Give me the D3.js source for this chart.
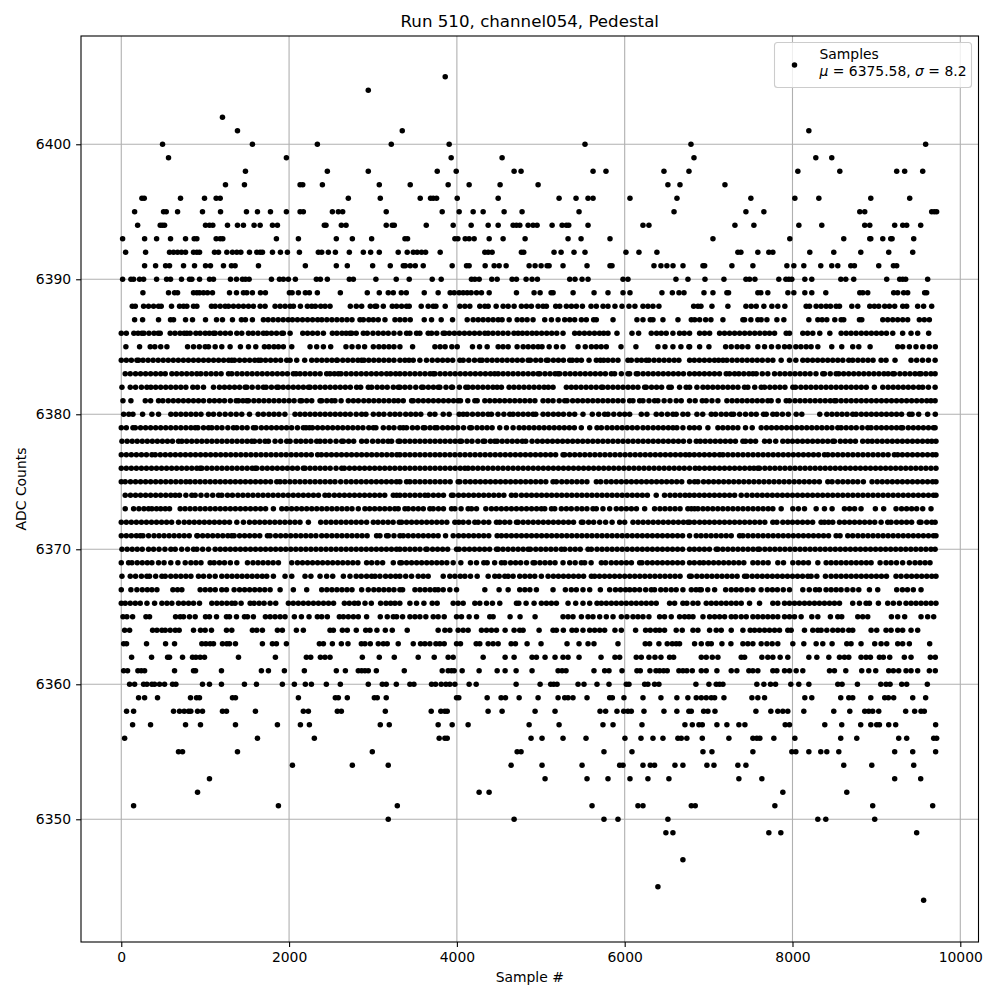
<!DOCTYPE html>
<html>
<head>
<meta charset="utf-8">
<script src="https://cdn.jsdelivr.net/npm/d3@7"></script>
<style>
    html, body { margin: 0; padding: 0; background: #fff; }
    text { font-family: "DejaVu Sans", sans-serif; fill: #000; }
</style>
</head>
<body>
<div id="container"></div>
<script>
// sample numbers at each ADC level
const adc6405 = [3861];
const adc6404 = [2944];
const adc6402 = [1206];
const adc6401 = [1385,3349,8195];
const adc6400 = [492,1563,2337,3218,3908,5527,6790,9587];
const adc6399 = [563,1968,3932,4539,6826,8278,8468];
const adc6398 = [1480,2456,2944,3766,3992,4682,4765,5623,5777,6468,6766,8064,8564,9242,9337,9552];
const adc6397 = [1242,1468,2131,2163,2397,3075,3444,3896,4146,4515,4968,6515,6659,7195];
const adc6396 = [246,274,706,992,1131,1179,2706,3087,3563,3686,3718,3758,4004,4492,5218,5420,5563,5623,6063,6623,7504,8028,8314,8933,9397];
const adc6395 = [159,504,536,671,968,1183,1492,1623,1778,1968,2131,2170,2516,2587,2639,3158,3825,4027,4194,4313,4563,4777,5456,6588,7445,7659,8802,8861,9659,9690,9718];
const adc6394 = [195,464,490,516,1004,1052,1091,1266,1385,1456,1583,1655,1802,1861,2420,2440,2623,2679,3158,3230,3254,3635,3956,4170,4373,4492,4670,4710,4750,4849,4908,4956,5135,5254,5305,5333,5563,6218,6289,7314,7540,8076,8349,8861,8921,9218,9314,9361,9528];
const adc6393 = [16,278,421,587,766,869,901,1131,1179,1210,1849,2111,2563,2754,2984,3381,3412,3976,4012,4099,4146,4206,4385,4551,4813,5325,5480,5825,7052,7968,8611,8921,8933,9076,9171,9187,9445];
const adc6392 = [52,290,575,623,671,718,766,861,901,933,1111,1159,1258,1325,1377,1425,1528,1615,1655,1683,1802,1897,1980,2123,2349,2389,2468,2552,2718,2885,2972,3075,3301,3408,3480,3527,3579,3627,3801,4333,4373,4420,4769,4797,5158,5242,5396,5527,6015,6170,6384,7349,7385,7587,7718,7766,8206,8492,8814,9147,9433];
const adc6391 = [278,409,528,575,742,873,1004,1063,1218,1313,1357,1635,2194,2563,2694,2996,3206,3361,3385,3444,3504,3599,3944,4115,4146,4337,4444,4504,4587,4861,4932,5004,5075,5099,5265,5551,5825,5849,6349,6432,6503,6576,6695,6933,6953,7278,7528,7933,8016,8135,8337,8468,8540,8695,8738,9028,9203,9242];
const adc6390 = [16,115,147,218,266,421,540,587,718,813,841,933,1052,1099,1302,1373,1444,1480,1524,1790,1885,1932,1992,2075,2325,2373,2456,2718,2766,3035,3277,3432,3706,3813,4174,4214,4266,4416,4480,4658,4710,4825,4896,4960,5345,5408,5492,5563,5980,6039,6611,6754,6957,7183,7445,7488,7552,7837,7921,7957,7992,8147,8230,8576,8635,8730,9123,9278,9314,9349,9611];
const adc6389 = [258,563,635,671,861,901,933,980,1028,1087,1290,1373,1456,1496,1563,1659,1718,2004,2036,2111,2194,2242,2337,2611,2932,3075,3182,3242,3337,3397,3611,3777,3920,3968,4027,4075,4123,4170,4234,4293,4385,4710,4920,4992,5123,5147,5385,5635,5801,5980,6063,6444,6568,6647,6707,6945,7052,7218,7238,7587,7623,7706,7945,8016,8147,8230,8397,8802,8838,8897,9206,9254,9325,9373,9575,9599];
const adc6388 = [131,167,266,325,385,444,476,599,694,742,782,861,901,1075,1119,1179,1238,1278,1337,1397,1456,1516,1575,1655,1714,1833,1893,1952,2012,2052,2135,2218,2270,2313,2377,2429,2488,2730,2801,2865,2968,3024,3043,3123,3230,3281,3341,3400,3432,3575,3658,3718,3750,3861,4035,4095,4154,4273,4333,4373,4468,4551,4611,4682,4769,4829,4888,4968,5027,5067,5178,5226,5305,5365,5424,5496,5599,5662,5742,5801,5884,5968,6051,6122,6218,6277,6337,6408,6822,6873,6909,7040,7230,7445,7508,7568,7659,7754,7825,7909,8163,8203,8282,8341,8401,8453,8520,8560,8707,8778,8921,8976,9028,9099,9155,9218,9314,9361,9492,9563,9659];
const adc6387 = [159,254,444,587,623,766,849,1004,1135,1206,1325,1432,1480,1563,1694,1750,1810,1870,1930,1990,2040,2100,2160,2220,2280,2340,2390,2450,2510,2570,2630,2690,2750,2845,2885,2950,3004,3063,3143,3262,3321,3381,3444,3611,3698,3813,3948,4123,4194,4254,4313,4373,4432,4492,4539,4623,4718,4777,4837,4908,5047,5127,5206,5285,5345,5404,5484,5543,5630,5662,5861,6146,6218,6305,6337,6456,6635,6794,6834,6893,6965,7028,7171,7409,7429,7504,7587,7627,7695,7814,7897,8195,8302,8353,8409,8504,8580,8611,8798,8826,9076,9135,9195,9254,9314,9373,9512,9571,9631];
const adc6386 = [0,60,150,200,246,270,330,390,440,464,583,640,700,750,782,821,889,940,1000,1050,1099,1119,1180,1240,1300,1377,1436,1516,1570,1630,1694,1734,1790,1850,1913,1932,2012,2163,2220,2280,2340,2409,2516,2570,2630,2680,2726,2746,2800,2885,2932,3000,3063,3123,3182,3250,3321,3400,3440,3519,3559,3658,3698,3760,3837,3857,3910,3970,4030,4090,4150,4210,4270,4333,4373,4430,4490,4550,4610,4680,4730,4781,4837,4896,4950,5010,5070,5130,5190,5265,5404,5460,5520,5580,5640,5700,5750,5801,5908,6087,6166,6317,6380,6436,6495,6575,6654,6710,6773,6893,6952,7012,7131,7190,7250,7310,7370,7430,7490,7550,7610,7670,7726,7786,7925,7964,8123,8180,8242,8325,8445,8580,8640,8698,8758,8820,8880,8940,9000,9060,9120,9195,9313,9413,9492,9623];
const adc6385 = [55,218,345,400,470,544,790,861,930,1000,1040,1119,1198,1297,1420,1516,1603,1706,1760,1820,1873,1932,2032,2250,2329,2409,2496,2678,2750,2825,2900,3004,3070,3130,3190,3250,3321,3472,3738,3800,3860,3940,4004,4186,4270,4361,4492,4550,4611,4718,4790,4850,4910,4968,5015,5100,5186,5265,5444,5530,5603,5662,5720,5781,5956,6134,6396,6480,6575,6670,6765,6774,6893,7004,7203,7270,7340,7400,7468,7587,7667,7750,7830,7905,7964,8040,8100,8163,8222,8302,8468,8587,8718,8790,8925,9254,9313,9393,9472,9552,9631,9702];
const adc6384 = [0,60,120,186,206,260,320,380,440,500,560,620,680,740,800,860,920,980,1040,1100,1160,1220,1280,1317,1349,1410,1470,1530,1590,1635,1663,1720,1780,1840,1900,1972,2012,2091,2186,2270,2330,2390,2450,2510,2567,2575,2640,2700,2760,2820,2865,2893,2950,3010,3070,3130,3190,3250,3321,3380,3430,3480,3559,3638,3706,3770,3830,3890,3950,4035,4075,4142,4210,4273,4301,4360,4420,4480,4540,4600,4660,4720,4780,4849,4876,4940,5000,5067,5087,5150,5210,5270,5345,5376,5430,5484,5575,5662,5710,5750,5801,5860,5920,6039,6079,6146,6200,6257,6289,6350,6410,6470,6530,6590,6646,6774,6830,6890,6950,7010,7070,7120,7171,7218,7280,7340,7400,7460,7520,7580,7640,7706,7766,7865,7964,8040,8123,8180,8240,8300,8360,8420,8480,8540,8600,8671,8718,8780,8840,8900,8960,9056,9115,9222,9413,9480,9550,9620,9700];
const adc6383 = [47,107,170,230,290,350,410,470,524,603,660,720,780,840,900,948,1010,1070,1130,1190,1278,1317,1380,1440,1500,1560,1620,1680,1740,1800,1860,1920,1980,2051,2083,2131,2190,2250,2310,2370,2448,2488,2540,2587,2619,2680,2740,2800,2860,2920,2980,3040,3100,3162,3210,3270,3321,3380,3440,3500,3560,3620,3680,3718,3738,3800,3860,3920,3980,4040,4100,4160,4220,4280,4340,4400,4450,4492,4551,4610,4670,4730,4790,4850,4910,4968,4988,5050,5110,5170,5206,5226,5290,5350,5410,5470,5530,5590,5650,5710,5770,5841,5880,5960,6039,6059,6138,6158,6220,6280,6340,6400,6460,6520,6580,6640,6700,6773,6833,6890,6950,7010,7070,7130,7210,7250,7310,7361,7420,7480,7528,7568,7640,7706,7786,7850,7910,7970,8030,8090,8150,8210,8280,8361,8381,8450,8520,8552,8610,8670,8730,8790,8850,8910,8970,9030,9090,9140,9195,9214,9280,9340,9400,9460,9512,9532,9590,9650,9700];
const adc6382 = [8,107,170,240,305,353,410,470,530,590,650,710,770,853,909,980,1099,1170,1230,1290,1350,1410,1476,1496,1560,1630,1694,1726,1790,1853,1873,1930,1990,2050,2110,2170,2230,2250,2310,2370,2430,2490,2550,2610,2670,2730,2805,2853,2944,2984,3050,3110,3170,3242,3301,3321,3380,3440,3510,3579,3599,3660,3720,3777,3797,3870,3936,3948,4030,4107,4134,4190,4250,4310,4370,4430,4480,4531,4622,4680,4740,4800,4860,4920,4980,5040,5090,5146,5305,5364,5420,5480,5540,5600,5660,5722,5741,5800,5860,5920,5980,6040,6099,6158,6238,6257,6320,6380,6440,6527,6555,6654,6733,6774,6861,6933,6990,7050,7110,7170,7230,7290,7350,7428,7468,7550,7627,7667,7730,7790,7850,7910,8004,8036,8100,8160,8220,8280,8340,8400,8460,8520,8580,8640,8700,8760,8820,8880,8976,9076,9140,9200,9260,9320,9380,9440,9504,9552,9620,9700];
const adc6381 = [20,115,286,350,444,496,560,620,680,740,800,860,920,980,1051,1110,1170,1230,1300,1369,1397,1450,1496,1516,1580,1640,1700,1760,1820,1880,1940,2000,2060,2131,2151,2210,2270,2369,2389,2450,2508,2547,2620,2706,2766,2825,2890,2950,3010,3070,3130,3190,3250,3301,3361,3460,3480,3540,3600,3660,3720,3780,3840,3900,3960,4015,4043,4130,4214,4242,4333,4392,4452,4510,4570,4630,4690,4750,4810,4870,4930,5027,5087,5146,5220,5285,5313,5380,5440,5500,5560,5620,5680,5740,5800,5860,5920,5980,6059,6099,6178,6218,6290,6356,6396,6470,6540,6614,6674,6773,6840,6925,6972,7040,7111,7218,7280,7340,7400,7460,7520,7580,7640,7706,7746,7830,7925,7964,8030,8090,8150,8210,8270,8330,8390,8450,8500,8520,8580,8640,8700,8760,8820,8880,8940,9000,9060,9120,9180,9240,9300,9360,9420,9480,9540,9600,9650,9700];
const adc6380 = [28,90,139,254,365,444,591,650,710,770,830,890,950,1040,1099,1170,1238,1305,1370,1436,1528,1631,1694,1760,1820,1880,1950,2071,2131,2190,2250,2310,2370,2430,2490,2550,2610,2670,2730,2800,2865,2916,3004,3070,3130,3202,3262,3321,3390,3450,3510,3570,3678,3738,3837,3908,4027,4075,4122,4186,4250,4310,4372,4412,4490,4560,4630,4670,4730,4790,4850,4908,4940,5027,5087,5150,5210,5270,5340,5404,5503,5614,5690,5761,5801,5870,5940,6000,6059,6198,6265,6376,6440,6510,6575,6614,6694,6753,6861,6930,7032,7083,7150,7210,7270,7298,7370,7440,7508,7568,7655,7687,7766,7814,7880,7950,8044,8111,8325,8409,8470,8530,8590,8650,8718,8758,8820,8880,8940,9000,9060,9120,9180,9240,9300,9393,9425,9504,9611,9702];
const adc6379 = [0,60,139,167,230,290,350,410,470,530,590,650,710,770,830,881,913,980,1040,1079,1140,1200,1270,1337,1377,1440,1500,1575,1603,1670,1730,1790,1850,1910,1970,2030,2100,2170,2202,2242,2278,2340,2400,2460,2520,2580,2640,2700,2760,2820,2880,2950,3004,3035,3123,3190,3250,3321,3361,3400,3470,3530,3599,3619,3680,3738,3765,3830,3890,3950,4010,4080,4154,4174,4240,4300,4360,4420,4511,4591,4670,4742,4800,4860,4920,4980,5040,5100,5160,5220,5280,5340,5400,5483,5583,5670,5722,5790,5850,5910,5970,6030,6090,6150,6218,6277,6340,6400,6460,6520,6575,6622,6694,6773,6830,6890,6992,7111,7170,7230,7290,7349,7440,7520,7627,7690,7750,7810,7870,7930,7990,8050,8110,8170,8230,8290,8350,8410,8470,8540,8580,8640,8700,8760,8830,8897,8937,9000,9060,9120,9180,9240,9294,9313,9380,9440,9500,9560,9620,9680,9700];
const adc6378 = [8,70,130,190,250,310,370,430,490,550,610,682,722,780,840,900,960,1020,1080,1140,1200,1260,1320,1380,1440,1500,1555,1587,1650,1714,1754,1833,1900,1972,2012,2083,2140,2200,2260,2329,2369,2428,2490,2560,2627,2647,2710,2770,2865,2924,2996,3060,3120,3180,3222,3301,3321,3380,3440,3500,3560,3620,3680,3740,3800,3860,3920,3980,4035,4055,4120,4180,4250,4313,4333,4400,4452,4480,4540,4600,4660,4720,4780,4821,4896,4960,5020,5080,5140,5200,5260,5320,5380,5440,5500,5560,5620,5680,5740,5800,5860,5920,5980,6040,6100,6160,6220,6280,6340,6400,6460,6520,6580,6640,6700,6773,6853,6901,6960,7020,7080,7140,7200,7260,7320,7409,7441,7500,7560,7667,7726,7800,7885,7944,8000,8060,8120,8180,8240,8300,8360,8420,8480,8500,8570,8630,8690,8750,8837,8897,8950,9010,9070,9130,9190,9250,9310,9370,9430,9490,9550,9610,9660,9710];
const adc6377 = [0,60,120,180,240,300,365,405,465,525,585,645,705,765,825,885,945,1005,1065,1125,1185,1245,1305,1365,1425,1485,1545,1605,1665,1725,1785,1845,1905,1965,2025,2085,2145,2205,2265,2340,2385,2445,2505,2565,2625,2685,2745,2805,2865,2925,2985,3045,3105,3165,3225,3285,3321,3381,3440,3500,3560,3620,3680,3740,3797,3857,3917,3977,4037,4097,4157,4217,4277,4337,4397,4457,4517,4577,4637,4697,4757,4817,4877,4937,4997,5057,5117,5177,5265,5285,5345,5405,5465,5525,5585,5645,5705,5765,5825,5885,5945,6005,6065,6125,6185,6245,6305,6365,6425,6485,6545,6605,6665,6725,6773,6830,6890,6950,7010,7070,7131,7171,7230,7290,7350,7410,7470,7530,7590,7650,7710,7770,7830,7890,7950,8010,8070,8130,8190,8250,8310,8381,8421,8480,8540,8600,8660,8720,8780,8840,8900,8960,9020,9080,9140,9214,9254,9310,9370,9430,9490,9550,9610,9670,9710];
const adc6376 = [0,60,120,180,240,300,360,420,480,540,600,660,720,780,840,900,940,960,1020,1080,1140,1200,1260,1320,1380,1440,1500,1560,1595,1615,1680,1740,1800,1860,1920,1980,2040,2100,2170,2190,2250,2310,2370,2430,2490,2560,2627,2658,2720,2780,2840,2900,2960,3020,3080,3140,3200,3260,3321,3380,3440,3500,3560,3620,3680,3740,3800,3860,3920,3980,4040,4095,4134,4190,4250,4310,4370,4430,4490,4550,4610,4670,4730,4790,4850,4910,4970,5030,5090,5150,5210,5270,5330,5390,5450,5510,5570,5630,5690,5750,5810,5870,5930,5990,6050,6110,6170,6230,6290,6350,6410,6470,6530,6590,6650,6710,6773,6840,6890,6952,7012,7070,7130,7190,7250,7310,7370,7430,7490,7540,7587,7607,7670,7730,7790,7850,7910,7970,8030,8090,8150,8210,8270,8330,8390,8450,8510,8570,8630,8690,8750,8810,8870,8930,8990,9050,9110,9170,9230,9290,9350,9410,9470,9530,9590,9650,9710];
const adc6375 = [0,47,110,170,230,290,350,410,470,530,590,650,710,770,821,881,940,1000,1060,1120,1180,1240,1300,1360,1420,1480,1540,1600,1660,1720,1780,1853,1893,1950,2010,2070,2130,2190,2250,2310,2370,2430,2490,2547,2615,2680,2740,2800,2860,2920,2980,3040,3100,3160,3220,3280,3321,3400,3440,3500,3560,3620,3680,3740,3800,3860,3920,4015,4035,4100,4160,4220,4280,4340,4400,4460,4520,4580,4640,4700,4760,4820,4880,4940,5000,5060,5146,5186,5250,5310,5370,5430,5490,5550,5662,5714,5780,5840,5900,5960,6020,6080,6140,6200,6260,6320,6380,6440,6500,6560,6620,6680,6773,6833,6873,6940,7000,7060,7120,7180,7240,7300,7360,7420,7480,7540,7600,7660,7720,7780,7840,7900,7960,8020,8080,8140,8200,8260,8320,8421,8472,8540,8600,8660,8720,8778,8845,8948,9010,9070,9130,9190,9250,9310,9370,9430,9490,9550,9610,9670,9710];
const adc6374 = [47,110,170,230,290,350,410,470,530,590,643,694,770,841,881,950,1020,1090,1159,1198,1266,1325,1390,1450,1510,1570,1630,1690,1750,1810,1870,1930,1990,2050,2110,2170,2230,2290,2350,2428,2476,2540,2600,2660,2720,2780,2840,2900,2960,3020,3080,3140,3242,3282,3321,3380,3440,3500,3560,3619,3658,3720,3780,3840,3936,3956,4020,4080,4140,4200,4260,4320,4380,4440,4500,4560,4650,4702,4770,4830,4890,4950,5010,5070,5130,5190,5250,5310,5370,5430,5490,5550,5610,5670,5730,5790,5850,5910,5970,6030,6090,6150,6210,6270,6376,6475,6540,6600,6660,6720,6773,6830,6890,6950,7010,7070,7130,7190,7250,7310,7389,7456,7520,7580,7640,7700,7760,7820,7880,7940,8000,8060,8120,8180,8240,8300,8360,8420,8480,8540,8600,8660,8720,8780,8840,8900,8960,9020,9080,9140,9200,9260,9320,9380,9440,9500,9560,9620,9680,9710];
const adc6373 = [47,147,210,270,325,365,420,470,524,575,702,760,820,880,940,1000,1060,1120,1180,1240,1300,1360,1420,1480,1540,1600,1660,1720,1813,1913,1970,2030,2090,2150,2210,2270,2330,2390,2450,2510,2570,2630,2690,2750,2825,2904,2960,3020,3080,3140,3200,3260,3301,3381,3420,3480,3540,3600,3678,3718,3780,3840,3936,3976,4050,4134,4174,4234,4345,4412,4470,4530,4590,4650,4710,4770,4830,4890,4950,5007,5047,5127,5166,5245,5305,5364,5430,5490,5550,5622,5662,5741,5821,5900,5960,6020,6080,6140,6238,6356,6420,6480,6540,6600,6660,6753,6794,6833,6873,6933,6990,7050,7110,7170,7230,7290,7350,7410,7470,7530,7590,7650,7710,7766,7865,8004,8070,8143,8282,8381,8472,8619,8680,8740,8817,8988,9087,9234,9300,9360,9420,9480,9552,9651];
const adc6372 = [0,60,120,180,240,300,360,420,480,540,600,682,750,810,870,930,990,1050,1110,1170,1230,1290,1377,1456,1528,1590,1650,1710,1770,1830,1890,1950,2010,2070,2130,2230,2377,2440,2500,2560,2620,2680,2740,2800,2860,2924,3004,3060,3120,3180,3240,3313,3341,3400,3460,3520,3580,3640,3700,3760,3820,3880,3976,4023,4075,4140,4214,4254,4320,4380,4472,4511,4570,4630,4710,4730,4790,4850,4910,4970,5030,5090,5150,5210,5270,5330,5390,5484,5503,5570,5630,5702,5773,5850,5940,6000,6099,6160,6220,6280,6340,6400,6460,6520,6580,6640,6700,6753,6774,6830,6893,6952,7010,7070,7130,7190,7250,7310,7370,7430,7490,7550,7610,7670,7766,7814,7885,7944,8000,8060,8120,8180,8240,8341,8381,8430,8480,8560,8620,8680,8740,8800,8860,8920,8980,9056,9135,9175,9240,9300,9360,9420,9512,9532,9600,9660,9700];
const adc6371 = [0,60,120,180,226,258,325,390,450,510,570,630,690,750,810,901,909,970,1030,1090,1150,1210,1270,1317,1345,1410,1470,1530,1590,1650,1742,1774,1840,1900,1960,2020,2080,2140,2200,2260,2320,2389,2448,2510,2570,2630,2690,2750,2810,2870,2930,3043,3083,3162,3182,3250,3321,3361,3420,3480,3540,3600,3660,3720,3777,3865,3956,4020,4080,4140,4200,4260,4320,4380,4480,4531,4590,4650,4710,4770,4830,4890,4950,5010,5070,5130,5190,5250,5310,5370,5430,5490,5550,5610,5670,5730,5790,5850,5910,5970,6030,6090,6150,6210,6270,6330,6390,6450,6510,6570,6630,6690,6773,6853,6910,6970,7030,7090,7150,7210,7270,7369,7409,7470,7530,7590,7650,7710,7770,7830,7890,7950,8010,8070,8130,8190,8250,8310,8370,8430,8520,8567,8659,8718,8780,8840,8900,8960,9020,9080,9140,9200,9260,9320,9380,9440,9500,9560,9620,9680,9710];
const adc6370 = [8,70,130,190,250,325,385,450,520,591,643,720,790,861,901,970,1040,1119,1180,1240,1300,1360,1420,1480,1540,1600,1660,1720,1780,1840,1900,1960,2020,2080,2140,2200,2260,2320,2380,2440,2500,2560,2620,2680,2740,2800,2860,2920,2980,3040,3100,3160,3220,3280,3321,3380,3440,3500,3560,3630,3646,3710,3770,3830,3890,3996,4027,4090,4150,4210,4270,4330,4390,4472,4492,4550,4610,4670,4730,4790,4849,4876,4940,5000,5060,5120,5180,5245,5285,5350,5410,5470,5563,5603,5670,5730,5790,5850,5910,5970,6030,6090,6150,6210,6270,6330,6390,6450,6510,6570,6630,6690,6773,6830,6890,6950,7010,7091,7111,7170,7230,7290,7350,7410,7470,7530,7587,7607,7670,7730,7790,7850,7910,7970,8030,8090,8150,8210,8270,8330,8390,8450,8510,8570,8630,8690,8750,8810,8870,8930,8990,9050,9110,9170,9230,9290,9350,9410,9470,9530,9590,9650,9700];
const adc6369 = [0,87,127,190,250,310,365,444,510,590,675,762,830,890,950,1059,1107,1170,1230,1300,1377,1504,1570,1630,1690,1750,1810,1873,2032,2100,2160,2220,2280,2340,2400,2460,2520,2580,2640,2700,2760,2820,2924,2984,3050,3115,3242,3321,3341,3400,3460,3520,3580,3640,3700,3760,3820,3880,3956,4047,4162,4234,4321,4361,4450,4531,4571,4640,4700,4760,4830,4908,4928,4990,5050,5110,5170,5265,5345,5410,5483,5523,5600,5722,5773,5840,5900,5960,6020,6080,6178,6206,6270,6330,6390,6450,6510,6570,6630,6690,6773,6830,6893,6941,7000,7060,7120,7180,7240,7300,7360,7420,7528,7587,7650,7710,7825,7893,8004,8070,8130,8190,8302,8401,8460,8520,8580,8640,8700,8760,8820,8880,8937,9044,9115,9175,9240,9313,9393,9460,9520,9580,9639];
const adc6368 = [8,107,170,240,305,337,410,484,524,590,650,710,770,830,920,980,1050,1119,1198,1260,1320,1380,1440,1500,1560,1620,1680,1734,1813,1952,2032,2190,2260,2369,2448,2520,2647,2726,2800,2860,2924,2984,3024,3083,3150,3210,3270,3321,3390,3460,3539,3599,3658,3837,3916,3976,4040,4095,4162,4242,4373,4452,4504,4571,4611,4670,4749,4810,4870,4928,5007,5087,5150,5210,5270,5330,5390,5450,5510,5603,5642,5700,5760,5820,5880,5940,6000,6060,6120,6180,6240,6300,6360,6420,6480,6540,6600,6660,6773,6794,6860,6920,6980,7040,7100,7160,7220,7280,7340,7429,7456,7520,7580,7640,7700,7760,7820,7880,7940,8000,8060,8120,8183,8222,8290,8393,8460,8520,8580,8640,8700,8760,8820,8880,8940,9000,9060,9120,9234,9294,9360,9420,9480,9540,9600,9660,9710];
const adc6367 = [0,115,186,250,310,365,425,615,670,722,940,1000,1060,1120,1198,1254,1345,1410,1470,1530,1590,1650,1710,1774,1893,2051,2210,2389,2450,2510,2570,2630,2690,2750,2865,2944,3010,3070,3130,3190,3250,3321,3353,3500,3560,3620,3680,3738,3777,3837,3916,3996,4333,4503,4611,4749,4810,4870,4948,5146,5293,5364,5424,5503,5583,5710,5821,5890,5950,6010,6060,6118,6178,6250,6317,6356,6430,6490,6555,6614,6694,6794,6850,6893,6913,6990,7072,7203,7270,7330,7390,7460,7528,7627,7700,7760,7820,7890,7964,8123,8200,8274,8321,8400,8460,8520,8579,8650,8720,8790,8917,9016,9242,9310,9370,9440,9532];
const adc6366 = [0,47,107,167,226,306,397,484,544,603,682,742,802,861,932,1079,1139,1198,1258,1317,1357,1428,1536,1583,1643,1702,1774,1841,1992,2050,2110,2170,2230,2290,2350,2410,2470,2530,2659,2718,2778,2825,2905,2980,3091,3155,3210,3262,3320,3440,3519,3607,3706,3765,3956,4015,4075,4214,4273,4353,4424,4511,4710,4738,4825,4920,5007,5067,5126,5186,5325,5416,5503,5583,5670,5722,5781,5841,5900,5960,6019,6079,6138,6198,6257,6317,6376,6535,6595,6694,6741,6814,6873,6972,7032,7091,7151,7210,7270,7329,7389,7488,7607,7766,7825,7905,7964,8024,8083,8143,8202,8262,8321,8381,8441,8500,8560,8718,8798,8877,8917,9024,9135,9202,9274,9353,9413,9472,9532,9591,9651,9710];
const adc6365 = [20,67,135,294,337,647,702,742,813,881,1004,1051,1135,1254,1290,1373,1468,1504,1575,1718,1774,1833,1893,1952,2063,2147,2238,2337,2389,2456,2599,2647,2706,2766,2825,2924,3087,3170,3242,3282,3353,3440,3500,3559,3630,3718,3777,3849,3996,4055,4146,4234,4392,4432,4634,4753,4932,5265,5325,5384,5484,5563,5622,5702,5781,5861,5960,6027,6099,6158,6218,6289,6416,6475,6555,6654,6714,6765,6814,6933,7012,7072,7131,7191,7270,7322,7389,7449,7528,7587,7647,7706,7766,7825,7905,7964,8024,8103,8230,8302,8452,8540,8587,8778,8837,8897,9179,9254,9337,9532,9611,9683];
const adc6364 = [40,99,373,425,484,524,583,643,690,861,944,1000,1075,1254,1317,1563,1615,1682,1861,1920,2087,2170,2488,2528,2635,2694,2801,2913,2964,3047,3147,3230,3408,3777,3857,3916,4015,4075,4134,4293,4353,4412,4472,4575,4682,4749,4789,4980,5146,5186,5269,5372,5424,5503,5583,5642,5702,5761,5884,5960,6130,6249,6305,6368,6416,6475,6614,6686,6814,6873,7012,7091,7151,7270,7409,7496,7548,7607,7667,7726,7786,7845,7944,7984,8143,8242,8302,8341,8409,8480,8540,8599,8671,8718,8937,9004,9115,9175,9254,9313,9413,9492];
const adc6363 = [28,63,301,528,635,960,1008,1059,1099,1206,1258,1290,1361,1682,1801,1849,1968,2361,2409,2516,2623,2702,2861,2904,2968,3063,3123,3170,3301,3480,3567,3619,3678,3750,3797,3849,3996,4043,4230,4273,4373,4432,4492,4646,4698,4837,5003,5313,5456,5563,5634,5920,6245,6297,6408,6507,6567,6614,6654,6833,6913,6992,7032,7159,7266,7409,7468,7528,7627,7695,7758,7825,8004,8135,8282,8361,8472,8647,8698,8817,8980,9056,9123,9254,9313,9393,9635];
const adc6362 = [123,361,552,575,730,849,889,940,992,1397,1837,2206,2258,2373,2428,2488,2873,3075,3254,3539,3730,3896,3956,4313,4575,4682,4896,4948,5051,5170,5265,5325,5456,5718,5884,5940,6138,6198,6289,6361,6432,6535,6583,6913,6972,7044,7111,7389,7429,7635,7706,7766,7853,7944,8195,8290,8433,8560,8619,8671,8817,8877,8929,9036,9083,9159,9333,9413,9643,9702];
const adc6361 = [28,75,198,238,278,635,861,885,1194,1670,1754,1944,2182,2563,2671,2825,2865,2904,2944,3040,3373,3825,3896,3936,3968,4063,4265,4480,4575,4706,4896,5206,5254,5301,5634,5761,5813,5968,6146,6186,6301,6373,6416,6464,6507,6646,6694,6741,6806,6913,6972,7099,7270,7337,7480,7528,7587,7766,7814,7905,7964,8044,8123,8441,8500,8635,8825,8909,8992,9147,9202,9266,9353,9413,9492,9631,9702];
const adc6360 = [99,159,266,306,365,397,456,516,611,651,968,1051,1194,1468,1611,1920,2063,2194,2266,2444,2611,2944,3111,3158,3278,3440,3488,3698,3746,3813,3869,3916,3976,4146,4230,4706,4992,5118,5154,5194,5444,5515,5670,5813,6019,6051,6238,6277,6356,6408,6849,7004,7091,7131,7171,7575,7659,7738,7798,7980,8075,8195,8540,8591,8774,9052,9115,9163,9302,9361,9607];
const adc6359 = [206,278,432,825,897,932,1325,1361,2111,2551,2587,2694,3016,3051,3158,3996,4023,4361,4527,4579,4742,4968,5206,5285,5325,5384,5551,5821,5853,5991,6218,6432,6622,6753,6853,6913,6972,7032,7072,7183,7516,7587,7667,8147,8230,8575,8671,8718,8933,9099,9143,9206,9433,9587];
const adc6358 = [63,147,623,694,750,802,829,909,968,1206,1254,1599,2170,2230,2575,2623,3147,3694,3809,3857,3885,4372,4539,4932,5170,5706,5773,5908,5988,6039,6079,6230,6468,6622,6765,6794,6941,6992,7076,7564,7742,7825,7885,7944,8135,8492,8683,8861,8909,8956,9028,9349,9456,9532,9571];
const adc6357 = [135,349,766,944,1361,1861,2135,2242,3087,3194,3777,3944,4134,4861,5218,5741,5861,6206,6718,6806,6885,6925,7099,7218,7361,7433,7913,7964,8385,8587,8813,8933,9004,9036,9147,9230,9706];
const adc6356 = [40,1623,2301,3789,3857,3885,4884,5015,5265,5539,6003,6194,6337,6456,6634,6674,6741,6925,7242,7528,7575,7611,7778,8028,8575,8766,9266,9361,9683,9718];
const adc6355 = [682,730,1385,2992,4718,4765,5753,6087,6933,7040,7528,7992,8040,8195,8337,8409,8552,9218,9433,9706];
const adc6354 = [2040,2754,3182,4646,5015,5492,5940,5980,6218,6305,6356,6599,6694,6980,7064,7349,7445,8611,8945,9445];
const adc6353 = [1051,5051,5551,5801,6063,6277,6527,7361,7635,9218,9528];
const adc6352 = [909,4265,4384,7885,8647];
const adc6351 = [147,1873,3290,5611,6158,6218,6794,6841,7790,8956,9671];
const adc6350 = [3182,4682,5753,5920,6515,8302,8397,8980];
const adc6349 = [6491,6575,7718,7861,9480];
const adc6347 = [6694];
const adc6345 = [6396];
const adc6344 = [9563];

const levelRows = [
    [6405,adc6405],[6404,adc6404],[6402,adc6402],[6401,adc6401],[6400,adc6400],[6399,adc6399],[6398,adc6398],[6397,adc6397],
    [6396,adc6396],[6395,adc6395],[6394,adc6394],[6393,adc6393],[6392,adc6392],[6391,adc6391],[6390,adc6390],[6389,adc6389],
    [6388,adc6388],[6387,adc6387],[6386,adc6386],[6385,adc6385],[6384,adc6384],[6383,adc6383],[6382,adc6382],[6381,adc6381],
    [6380,adc6380],[6379,adc6379],[6378,adc6378],[6377,adc6377],[6376,adc6376],[6375,adc6375],[6374,adc6374],[6373,adc6373],
    [6372,adc6372],[6371,adc6371],[6370,adc6370],[6369,adc6369],[6368,adc6368],[6367,adc6367],[6366,adc6366],[6365,adc6365],
    [6364,adc6364],[6363,adc6363],[6362,adc6362],[6361,adc6361],[6360,adc6360],[6359,adc6359],[6358,adc6358],[6357,adc6357],
    [6356,adc6356],[6355,adc6355],[6354,adc6354],[6353,adc6353],[6352,adc6352],[6351,adc6351],[6350,adc6350],[6349,adc6349],
    [6347,adc6347],[6345,adc6345],[6344,adc6344]
];
const x_ticks = [0, 2000, 4000, 6000, 8000, 10000];
const y_ticks = [6350, 6360, 6370, 6380, 6390, 6400];

const fig = {width: 1000, height: 1000};
const plot = {left: 81, right: 978.5, top: 36, bottom: 942};

const svg = d3.select("#container").append("svg")
    .attr("width", fig.width)
    .attr("height", fig.height)
    .style("display", "block");

const xScale = d3.scaleLinear().domain([-480, 10217]).range([plot.left, plot.right]);
const yScale = d3.scaleLinear().domain([6340.91, 6408.02]).range([plot.bottom, plot.top]);

// grid under the points
const grid = svg.append("g").attr("stroke", "#b0b0b0").attr("stroke-width", 1.1);
grid.selectAll(".vgrid").data(x_ticks).enter().append("line")
    .attr("x1", d => xScale(d)).attr("x2", d => xScale(d))
    .attr("y1", plot.top).attr("y2", plot.bottom);
grid.selectAll(".hgrid").data(y_ticks).enter().append("line")
    .attr("x1", plot.left).attr("x2", plot.right)
    .attr("y1", d => yScale(d)).attr("y2", d => yScale(d));

const points = levelRows.flatMap(([level, samples]) => samples.map(s => ({sample: s, level: level})));
svg.append("g").selectAll("circle")
    .data(points)
    .enter().append("circle")
    .attr("cx", d => xScale(d.sample))
    .attr("cy", d => yScale(d.level))
    .attr("r", 2.75)
    .attr("fill", "#000");

const xAxis = svg.append("g")
    .attr("transform", `translate(0,${plot.bottom})`)
    .call(d3.axisBottom(xScale).tickValues(x_ticks).tickFormat(d3.format("d")).tickSize(4.9).tickPadding(4.9).tickSizeOuter(0));
const yAxis = svg.append("g")
    .attr("transform", `translate(${plot.left},0)`)
    .call(d3.axisLeft(yScale).tickValues(y_ticks).tickFormat(d3.format("d")).tickSize(4.9).tickPadding(4.9).tickSizeOuter(0));
[xAxis, yAxis].forEach(a => {
    a.select(".domain").remove();
    a.selectAll("line").attr("stroke", "#000").attr("stroke-width", 1.1);
    a.selectAll("text").style("font-family", '"DejaVu Sans", sans-serif').style("font-size", "13.9px");
});

// frame
svg.append("rect")
    .attr("x", plot.left).attr("y", plot.top)
    .attr("width", plot.right - plot.left).attr("height", plot.bottom - plot.top)
    .attr("fill", "none").attr("stroke", "#000").attr("stroke-width", 1.1);

svg.append("text")
    .attr("x", (plot.left + plot.right) / 2).attr("y", 27)
    .attr("text-anchor", "middle").style("font-size", "16.67px")
    .text("Run 510, channel054, Pedestal");
svg.append("text")
    .attr("x", (plot.left + plot.right) / 2).attr("y", 982)
    .attr("text-anchor", "middle").style("font-size", "13.9px")
    .text("Sample #");
svg.append("text")
    .attr("transform", `translate(25.5,${(plot.top + plot.bottom) / 2}) rotate(-90)`)
    .attr("text-anchor", "middle").style("font-size", "13.9px")
    .text("ADC Counts");

// legend
const legend = svg.append("g");
legend.append("rect")
    .attr("x", 774.5).attr("y", 42.5).attr("width", 197).attr("height", 45).attr("rx", 3)
    .attr("fill", "#fff").attr("fill-opacity", 0.8)
    .attr("stroke", "#ccc").attr("stroke-width", 1.1);
legend.append("circle")
    .attr("cx", 794.5).attr("cy", 65).attr("r", 2.75).attr("fill", "#000");
legend.append("text")
    .attr("x", 819.5).attr("y", 59).style("font-size", "13.9px").text("Samples");
const stats = legend.append("text")
    .attr("x", 819.5).attr("y", 76).style("font-size", "13.9px");
stats.append("tspan").style("font-style", "italic").text("\u03bc");
stats.append("tspan").text(" = 6375.58, ");
stats.append("tspan").style("font-style", "italic").text("\u03c3");
stats.append("tspan").text(" = 8.2");
</script>
</body>
</html>
